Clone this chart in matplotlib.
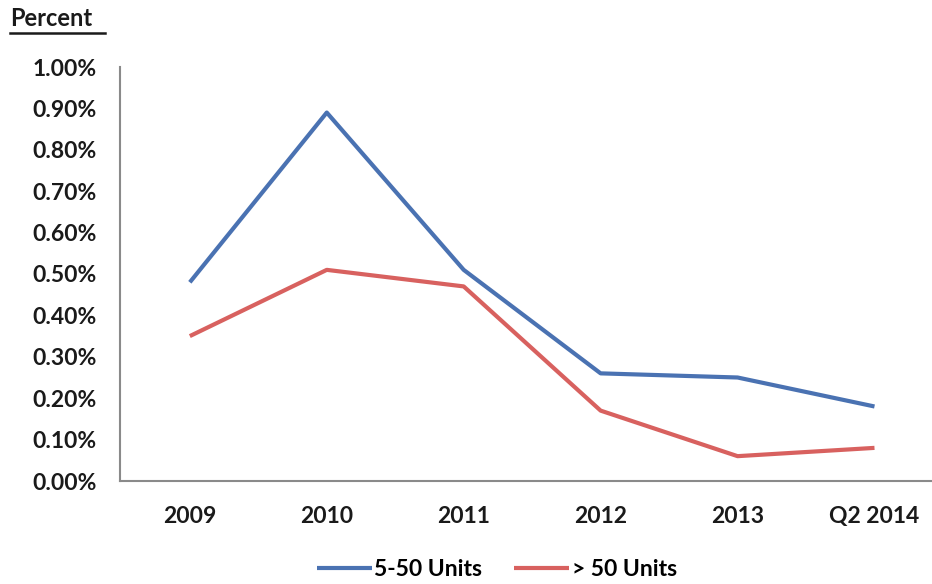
import matplotlib.pyplot as plt
from matplotlib.lines import Line2D
from matplotlib.ticker import FuncFormatter

plt.rcParams['font.family'] = ['Lato', 'DejaVu Sans']

periods = ["2009", "2010", "2011", "2012", "2013", "Q2 2014"]
small_units = [0.48, 0.89, 0.51, 0.26, 0.25, 0.18]   # 5-50 Units, percent
large_units = [0.35, 0.51, 0.47, 0.17, 0.06, 0.08]   # > 50 Units, percent

blue = "#4A72B2"
red = "#D8615F"
ink = "#1a1a1a"

fig = plt.figure(figsize=(9.32, 5.84), dpi=100)
ax = fig.add_axes([120 / 932, 103 / 584, 812 / 932, 414 / 584])

x = range(len(periods))
ax.plot(x, small_units, color=blue, lw=3, label="5-50 Units", solid_capstyle='butt')
ax.plot(x, large_units, color=red, lw=3, label="> 50 Units", solid_capstyle='butt')

ax.set_xlim(-0.51, 5.42)
ax.set_ylim(0, 1.0)
ax.set_yticks([i / 10 for i in range(11)])
ax.yaxis.set_major_formatter(FuncFormatter(lambda v, _: f"{v:.2f}%"))
ax.set_xticks(list(x))
ax.set_xticklabels(periods)
ax.tick_params(axis='both', length=0, labelsize=16.5, colors=ink)
ax.tick_params(axis='y', pad=17)
ax.tick_params(axis='x', pad=18)
for lbl in ax.get_xticklabels() + ax.get_yticklabels():
    lbl.set_fontweight('bold')

for side in ['top', 'right']:
    ax.spines[side].set_visible(False)
for side in ['left', 'bottom']:
    ax.spines[side].set_color('#8a8a8a')
    ax.spines[side].set_linewidth(1.5)

# axis title, underlined
fig.text(10 / 932, 1 - 18 / 584, "Percent", fontsize=17, fontweight='bold',
         color=ink, va='center', ha='left')
fig.add_artist(Line2D([10 / 932, 105 / 932], [1 - 33 / 584, 1 - 33 / 584],
                      color=ink, lw=1.8))

fig.legend(loc='center', bbox_to_anchor=(497 / 932, 1 - 570 / 584), ncol=2,
           frameon=False, handlelength=2.4, handletextpad=0.1,
           columnspacing=1.4, prop={'weight': 'bold', 'size': 16.5})

fig.savefig("out.png", dpi=100)
